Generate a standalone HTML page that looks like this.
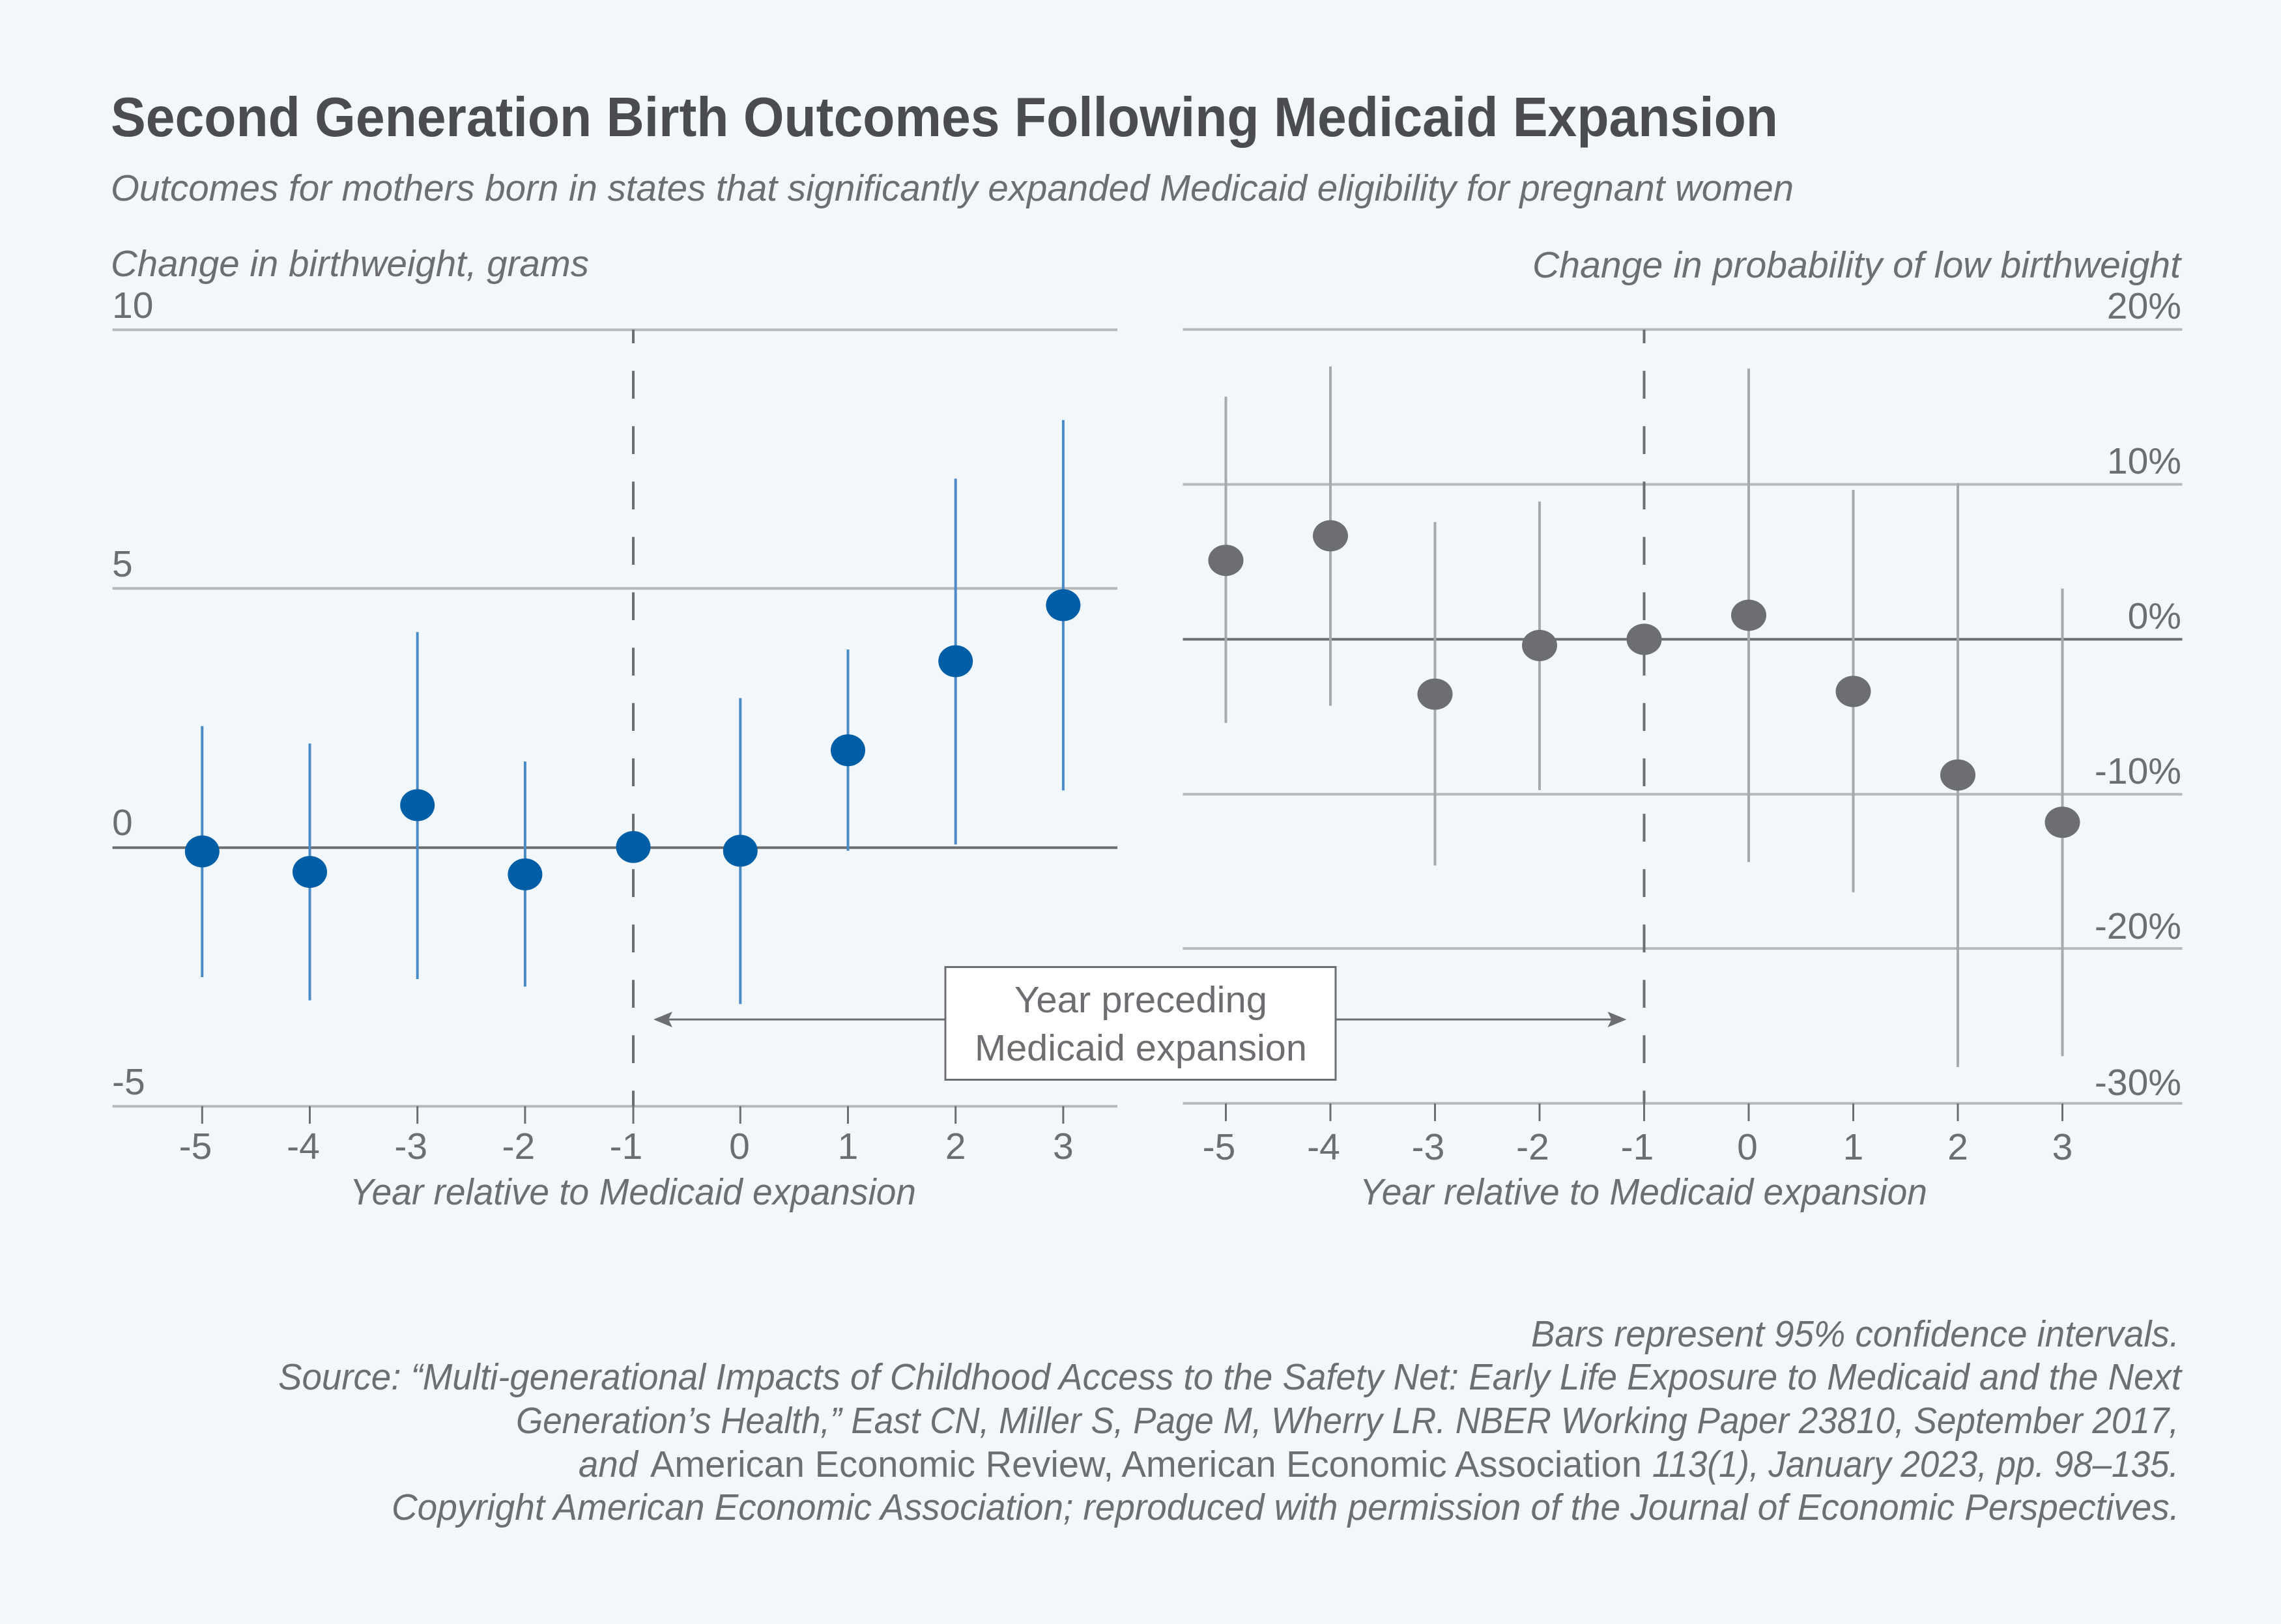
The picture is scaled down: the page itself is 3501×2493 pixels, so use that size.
<!DOCTYPE html>
<html>
<head>
<meta charset="utf-8">
<style>
  html, body { margin: 0; padding: 0; background: #f2f7fb; }
  svg { display: block; }
  text { font-family: "Liberation Sans", "DejaVu Sans", sans-serif; fill: #6d6e71; }
  .it { font-style: italic; }
</style>
</head>
<body>
<svg width="3501" height="2493" viewBox="0 0 3501 2493" xmlns="http://www.w3.org/2000/svg">
  <rect x="0" y="0" width="3501" height="2493" fill="#f2f7fb"/>

  <!-- Title & subtitle -->
  <text x="170" y="209" font-size="85" font-weight="bold" style="fill:#4b4c4f" textLength="2559" lengthAdjust="spacingAndGlyphs">Second Generation Birth Outcomes Following Medicaid Expansion</text>
  <text class="it" x="170" y="308" font-size="57" textLength="2583" lengthAdjust="spacingAndGlyphs">Outcomes for mothers born in states that significantly expanded Medicaid eligibility for pregnant women</text>

  <!-- Axis titles -->
  <text class="it" x="170" y="424" font-size="57" textLength="734" lengthAdjust="spacingAndGlyphs">Change in birthweight, grams</text>
  <text class="it" x="2352" y="426" font-size="57" textLength="995" lengthAdjust="spacingAndGlyphs">Change in probability of low birthweight</text>

  <!-- LEFT PANEL gridlines -->
  <g stroke="#b6b8bb" stroke-width="4">
    <line x1="172.6" y1="506.2" x2="1715" y2="506.2"/>
    <line x1="172.6" y1="903.2" x2="1715" y2="903.2"/>
    <line x1="172.6" y1="1698.2" x2="1715" y2="1698.2"/>
  </g>
  <line x1="172.6" y1="1301.2" x2="1715" y2="1301.2" stroke="#6d6e71" stroke-width="4"/>

  <!-- left y labels -->
  <g font-size="57">
    <text x="172" y="488">10</text>
    <text x="172" y="885">5</text>
    <text x="172" y="1282">0</text>
    <text x="172" y="1680">-5</text>
  </g>

  <!-- left ticks -->
  <g stroke="#6d6e71" stroke-width="3">
    <line x1="310.3" y1="1698" x2="310.3" y2="1725"/>
    <line x1="475.5" y1="1698" x2="475.5" y2="1725"/>
    <line x1="640.7" y1="1698" x2="640.7" y2="1725"/>
    <line x1="805.9" y1="1698" x2="805.9" y2="1725"/>
    <line x1="972" y1="1698" x2="972" y2="1725"/>
    <line x1="1136.3" y1="1698" x2="1136.3" y2="1725"/>
    <line x1="1301.5" y1="1698" x2="1301.5" y2="1725"/>
    <line x1="1466.7" y1="1698" x2="1466.7" y2="1725"/>
    <line x1="1631.9" y1="1698" x2="1631.9" y2="1725"/>
  </g>
  <g font-size="57" text-anchor="middle">
    <text x="300" y="1779">-5</text>
    <text x="465.5" y="1779">-4</text>
    <text x="630.7" y="1779">-3</text>
    <text x="795.9" y="1779">-2</text>
    <text x="961" y="1779">-1</text>
    <text x="1135" y="1779">0</text>
    <text x="1301.5" y="1779">1</text>
    <text x="1466.7" y="1779">2</text>
    <text x="1631.9" y="1779">3</text>
  </g>
  <text class="it" x="537" y="1849" font-size="57" textLength="869" lengthAdjust="spacingAndGlyphs">Year relative to Medicaid expansion</text>

  <!-- left dashed line -->
  <line x1="972" y1="506" x2="972" y2="1698" stroke="#6d6e71" stroke-width="4" stroke-dasharray="42.7 42.3" stroke-dashoffset="21.7"/>

  <!-- left CIs -->
  <g stroke="#4a8bc5" stroke-width="4">
    <line x1="310.3" y1="1114.6" x2="310.3" y2="1500"/>
    <line x1="475.5" y1="1141.4" x2="475.5" y2="1535.6"/>
    <line x1="640.7" y1="970.2" x2="640.7" y2="1503"/>
    <line x1="805.9" y1="1169" x2="805.9" y2="1514.5"/>
    <line x1="1136.3" y1="1071.6" x2="1136.3" y2="1541.3"/>
    <line x1="1301.5" y1="997" x2="1301.5" y2="1306"/>
    <line x1="1466.7" y1="734.8" x2="1466.7" y2="1296.4"/>
    <line x1="1631.9" y1="644.9" x2="1631.9" y2="1213.2"/>
  </g>
  <!-- left dots -->
  <g fill="#005ea6">
    <ellipse cx="310.3" cy="1307" rx="26.5" ry="24.5"/>
    <ellipse cx="475.5" cy="1338.5" rx="26.5" ry="24.5"/>
    <ellipse cx="640.7" cy="1236" rx="26.5" ry="24.5"/>
    <ellipse cx="805.9" cy="1342.3" rx="26.5" ry="24.5"/>
    <ellipse cx="972" cy="1300.2" rx="26.5" ry="24.5"/>
    <ellipse cx="1136.3" cy="1306" rx="26.5" ry="24.5"/>
    <ellipse cx="1301.5" cy="1151.7" rx="26.5" ry="24.5"/>
    <ellipse cx="1466.7" cy="1015" rx="26.5" ry="24.5"/>
    <ellipse cx="1631.9" cy="929" rx="26.5" ry="24.5"/>
  </g>

  <!-- RIGHT PANEL gridlines -->
  <g stroke="#b6b8bb" stroke-width="4">
    <line x1="1815.5" y1="505.7" x2="3349.5" y2="505.7"/>
    <line x1="1815.5" y1="743.6" x2="3349.5" y2="743.6"/>
    <line x1="1815.5" y1="1219.2" x2="3349.5" y2="1219.2"/>
    <line x1="1815.5" y1="1456" x2="3349.5" y2="1456"/>
    <line x1="1815.5" y1="1693.8" x2="3349.5" y2="1693.8"/>
  </g>
  <line x1="1815.5" y1="981.4" x2="3349.5" y2="981.4" stroke="#6d6e71" stroke-width="4"/>

  <g font-size="57" text-anchor="end">
    <text x="3348" y="489">20%</text>
    <text x="3348" y="727">10%</text>
    <text x="3348" y="965">0%</text>
    <text x="3348" y="1203">-10%</text>
    <text x="3348" y="1441">-20%</text>
    <text x="3348" y="1681">-30%</text>
  </g>

  <g stroke="#6d6e71" stroke-width="3">
    <line x1="1881.5" y1="1694" x2="1881.5" y2="1721"/>
    <line x1="2042" y1="1694" x2="2042" y2="1721"/>
    <line x1="2202.5" y1="1694" x2="2202.5" y2="1721"/>
    <line x1="2363" y1="1694" x2="2363" y2="1721"/>
    <line x1="2523.5" y1="1694" x2="2523.5" y2="1721"/>
    <line x1="2684" y1="1694" x2="2684" y2="1721"/>
    <line x1="2844.5" y1="1694" x2="2844.5" y2="1721"/>
    <line x1="3005" y1="1694" x2="3005" y2="1721"/>
    <line x1="3165.5" y1="1694" x2="3165.5" y2="1721"/>
  </g>
  <g font-size="57" text-anchor="middle">
    <text x="1871" y="1780">-5</text>
    <text x="2031.5" y="1780">-4</text>
    <text x="2192" y="1780">-3</text>
    <text x="2352.5" y="1780">-2</text>
    <text x="2513" y="1780">-1</text>
    <text x="2682" y="1780">0</text>
    <text x="2844.5" y="1780">1</text>
    <text x="3005" y="1780">2</text>
    <text x="3165.5" y="1780">3</text>
  </g>
  <text class="it" x="2087" y="1849" font-size="57" textLength="871" lengthAdjust="spacingAndGlyphs">Year relative to Medicaid expansion</text>

  <line x1="2523.5" y1="506" x2="2523.5" y2="1694" stroke="#6d6e71" stroke-width="4" stroke-dasharray="42.7 42.3" stroke-dashoffset="21.7"/>

  <g stroke="#a7a9ac" stroke-width="4">
    <line x1="1881.5" y1="608.9" x2="1881.5" y2="1109.8"/>
    <line x1="2042" y1="562.6" x2="2042" y2="1083.5"/>
    <line x1="2202.5" y1="801.4" x2="2202.5" y2="1328.6"/>
    <line x1="2363" y1="769.9" x2="2363" y2="1212.9"/>
    <line x1="2684" y1="565.7" x2="2684" y2="1323.4"/>
    <line x1="2844.5" y1="752" x2="2844.5" y2="1369.7"/>
    <line x1="3005" y1="741.5" x2="3005" y2="1638"/>
    <line x1="3165.5" y1="903.5" x2="3165.5" y2="1621.2"/>
  </g>
  <g fill="#6d6e71">
    <ellipse cx="1881.5" cy="860.2" rx="27" ry="24"/>
    <ellipse cx="2042" cy="822.5" rx="27" ry="24"/>
    <ellipse cx="2202.5" cy="1065.6" rx="27" ry="24"/>
    <ellipse cx="2363" cy="990.9" rx="27" ry="24"/>
    <ellipse cx="2523.5" cy="981.4" rx="27" ry="24"/>
    <ellipse cx="2684" cy="944.5" rx="27" ry="24"/>
    <ellipse cx="2844.5" cy="1061.4" rx="27" ry="24"/>
    <ellipse cx="3005" cy="1189.7" rx="27" ry="24"/>
    <ellipse cx="3165.5" cy="1262.3" rx="27" ry="24"/>
  </g>

  <!-- Annotation -->
  <g stroke="#6d6e71" stroke-width="3">
    <line x1="1025" y1="1565" x2="1451" y2="1565"/>
    <line x1="2050" y1="1565" x2="2475" y2="1565"/>
  </g>
  <polygon points="1003,1565 1032,1553 1026,1565 1032,1577" fill="#6d6e71"/>
  <polygon points="2496.5,1565 2467.5,1553 2473.5,1565 2467.5,1577" fill="#6d6e71"/>
  <rect x="1451" y="1484.5" width="599" height="173" fill="#ffffff" stroke="#6d6e71" stroke-width="3"/>
  <text x="1751" y="1554" font-size="57" text-anchor="middle" textLength="388" lengthAdjust="spacingAndGlyphs">Year preceding</text>
  <text x="1751" y="1628" font-size="57" text-anchor="middle" textLength="510" lengthAdjust="spacingAndGlyphs">Medicaid expansion</text>

  <!-- Footer -->
  <g font-size="57">
    <text class="it" x="2350" y="2067" textLength="995" lengthAdjust="spacingAndGlyphs">Bars represent 95% confidence intervals.</text>
    <text class="it" x="427" y="2133" textLength="2921" lengthAdjust="spacingAndGlyphs">Source: “Multi-generational Impacts of Childhood Access to the Safety Net: Early Life Exposure to Medicaid and the Next</text>
    <text class="it" x="792" y="2200" textLength="2552" lengthAdjust="spacingAndGlyphs">Generation’s Health,” East CN, Miller S, Page M, Wherry LR. NBER Working Paper 23810, September 2017,</text>
    <text class="it" x="888" y="2267" textLength="91" lengthAdjust="spacingAndGlyphs">and</text>
    <text x="998" y="2267" textLength="1522" lengthAdjust="spacingAndGlyphs">American Economic Review, American Economic Association</text>
    <text class="it" x="2536" y="2267" textLength="808" lengthAdjust="spacingAndGlyphs">113(1), January 2023, pp. 98–135.</text>
    <text class="it" x="601" y="2333" textLength="2744" lengthAdjust="spacingAndGlyphs">Copyright American Economic Association; reproduced with permission of the Journal of Economic Perspectives.</text>
  </g>
</svg>
</body>
</html>
